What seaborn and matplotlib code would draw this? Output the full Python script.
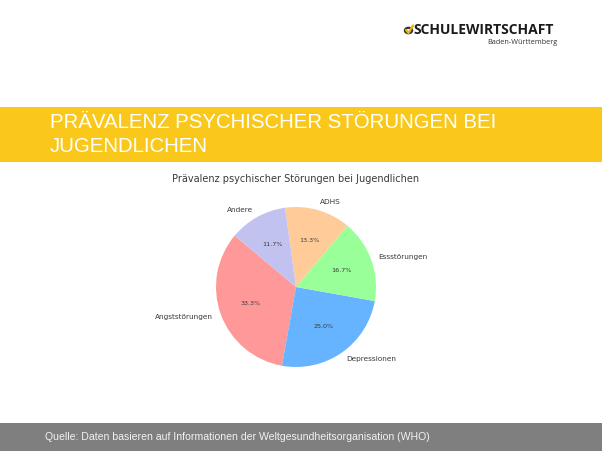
import matplotlib
matplotlib.use("Agg")
import matplotlib.pyplot as plt
import seaborn as sns
from matplotlib.patches import Rectangle, Circle
from matplotlib.lines import Line2D

# Data
categories = ['Angststörungen', 'Depressionen', 'Essstörungen', 'ADHS', 'Andere']
shares = [33.3, 25.0, 16.7, 13.3, 11.7]
slice_colors = ['#ff9999', '#66b3ff', '#99ff99', '#ffcc99', '#c2c2f0']

slide_title = ['PRÄVALENZ PSYCHISCHER STÖRUNGEN BEI', 'JUGENDLICHEN']
chart_title = 'Prävalenz psychischer Störungen bei Jugendlichen'
source_note = 'Quelle: Daten basieren auf Informationen der Weltgesundheitsorganisation (WHO)'

sns.set_theme(style='white')
plt.rcParams['font.family'] = ['DejaVu Sans']

W, H = 602, 451
fig = plt.figure(figsize=(W / 100, H / 100), dpi=100)
fig.patch.set_facecolor('white')


def fx(px):
    return px / W


def fy(py):
    return 1 - py / H


# yellow title bar and grey footer
fig.patches.append(Rectangle((0, fy(162)), 1, (162 - 107) / H, transform=fig.transFigure,
                             facecolor='#f9c81b', edgecolor='none', zorder=0))
fig.patches.append(Rectangle((0, 0), 1, (451 - 423) / H, transform=fig.transFigure,
                             facecolor='#7f7f7f', edgecolor='none', zorder=0))

fig.text(fx(50), fy(122), slide_title[0], color='white', fontsize=14.7,
         family='Liberation Sans', va='center', ha='left')
fig.text(fx(50), fy(146), slide_title[1], color='white', fontsize=14.7,
         family='Liberation Sans', va='center', ha='left')
fig.text(fx(45), fy(437), source_note, color='#f2f2f2', fontsize=7.6,
         family='Liberation Sans', va='center', ha='left')

# logo
fig.text(fx(413), fy(30), 'SCHULEWIRTSCHAFT', color='#1a1a1a', fontsize=10,
         family='Open Sans', weight='bold', va='center', ha='left')
fig.text(fx(557), fy(42), 'Baden-Württemberg', color='#333333', fontsize=5.2,
         family='Open Sans', va='center', ha='right')
fig.patches.append(Circle((fx(408.5), fy(30.5)), 3.6 / W, transform=fig.transFigure,
                          facecolor='none', edgecolor='#333333', linewidth=1.6))
fig.lines.append(Line2D([fx(406), fx(408.5), fx(413)], [fy(30), fy(33), fy(25.5)],
                        transform=fig.transFigure, color='#f0b400', linewidth=1.6))

# pie chart
fig.text(fx(296), fy(179), chart_title, color='#3a3a3a', fontsize=7.0,
         va='center', ha='center')
ax = fig.add_axes([fx(216), fy(367), 160 / W, 160 / H])
wedges, texts, autotexts = ax.pie(shares, labels=categories, colors=slice_colors,
                                  autopct='%1.1f%%', startangle=140,
                                  wedgeprops={'linewidth': 0, 'edgecolor': 'none'},
                                  textprops={'fontsize': 5.3, 'color': '#3a3a3a'})
for t in autotexts:
    t.set_fontsize(4.6)
ax.set_xlim(-1, 1)
ax.set_ylim(-1, 1)
ax.set_aspect('equal')
ax.axis('off')

fig.savefig('out.png', dpi=100)
